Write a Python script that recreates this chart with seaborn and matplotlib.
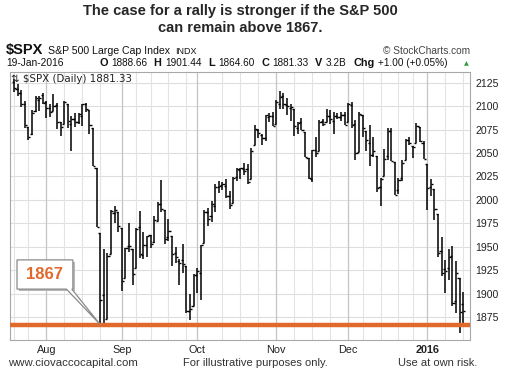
import matplotlib
matplotlib.use("Agg")
import matplotlib.pyplot as plt
import matplotlib.patches as mpatches
import matplotlib.transforms as mtransforms
import numpy as np
import pandas as pd
import seaborn as sns

# trading days shown on the chart (Jul 21 2015 - Jan 19 2016)
holidays = ["2015-09-07", "2015-11-26", "2015-12-25", "2016-01-01", "2016-01-18"]
dates = pd.bdate_range("2015-07-21", "2016-01-19")
dates = dates[~dates.isin(pd.to_datetime(holidays))]

opens = [2125.55, 2118.21, 2114.16, 2102.24, 2078.19, 2070.75, 2094.70, 2106.78, 2111.60,
         2104.49, 2097.68, 2095.27, 2100.75, 2082.61, 2080.98, 2102.66, 2081.10, 2086.19, 2083.15,
         2089.70, 2101.99, 2095.69, 2076.61, 2034.08, 1965.15, 1898.08, 1872.75, 1942.77, 1986.06,
         1986.73,
         1970.09, 1916.52, 1950.79, 1947.76, 1927.30, 1971.45, 1941.59, 1951.45, 1963.06, 1955.10,
         1978.02, 1995.33, 1989.66, 1960.84, 1961.39, 1943.24, 1934.81, 1935.93, 1929.18, 1881.90,
         1887.14,
         1919.65, 1921.77, 1954.33, 1986.63, 1982.34, 1994.01, 2013.73, 2015.65, 2015.00, 2003.66,
         1996.47, 2024.37, 2031.73, 2033.13, 2033.47, 2021.88, 2058.19, 2075.08, 2068.75, 2066.48,
         2088.35, 2090.00,
         2080.76, 2102.63, 2110.60, 2101.68, 2098.60, 2096.56, 2077.19, 2083.41, 2072.29, 2044.64,
         2022.08, 2053.67, 2051.99, 2083.70, 2082.82, 2089.41, 2084.42, 2089.30, 2088.82, 2090.95,
         2082.93, 2101.71, 2080.71, 2051.24, 2090.42, 2073.39, 2061.17, 2047.93, 2047.27, 2013.37,
         2025.55, 2046.50, 2073.76, 2040.81, 2010.27, 2023.15, 2042.20, 2063.52, 2057.77, 2060.54,
         2077.34, 2060.59,
         2038.20, 2013.78, 2011.71, 1985.32, 1945.97, 1926.12, 1927.83, 1940.34, 1891.68, 1916.68,
         1888.66]
highs = [2128.89, 2124.18, 2116.87, 2106.01, 2078.19, 2095.60, 2110.60, 2110.48, 2114.24,
         2105.70, 2102.51, 2112.66, 2103.32, 2082.61, 2105.35, 2102.66, 2089.06, 2092.93, 2092.45,
         2102.87, 2103.47, 2096.17, 2076.61, 2034.08, 1965.15, 1948.04, 1943.09, 1989.60, 1993.48,
         1986.73,
         1970.09, 1948.91, 1975.01, 1947.76, 1970.42, 1988.63, 1965.29, 1961.05, 1963.06, 1983.19,
         1997.26, 2020.86, 1989.66, 1979.64, 1961.39, 1949.52, 1937.17, 1952.89, 1929.18, 1899.48,
         1920.53,
         1927.21, 1951.36, 1989.17, 1991.62, 1999.31, 2016.50, 2020.13, 2018.66, 2022.34, 2009.56,
         2024.15, 2033.54, 2034.45, 2039.12, 2037.97, 2055.20, 2079.74, 2075.14, 2070.37, 2090.35,
         2092.52, 2094.32,
         2106.20, 2116.48, 2114.59, 2108.78, 2101.91, 2096.56, 2083.67, 2086.94, 2072.29, 2044.64,
         2053.22, 2066.69, 2085.31, 2086.74, 2097.06, 2095.61, 2094.12, 2093.00, 2093.29, 2093.81,
         2103.37, 2104.27, 2085.00, 2093.84, 2090.42, 2073.85, 2080.33, 2067.65, 2047.27, 2022.92,
         2053.87, 2076.72, 2076.37, 2040.81, 2022.90, 2042.74, 2064.73, 2067.36, 2057.77, 2081.56,
         2077.34, 2062.54,
         2038.20, 2021.94, 2011.71, 1985.32, 1960.40, 1935.65, 1947.38, 1950.33, 1934.47, 1916.68,
         1901.44]
lows = [2115.40, 2110.85, 2098.63, 2077.09, 2063.52, 2069.09, 2094.08, 2094.97, 2102.07,
        2087.31, 2088.60, 2095.27, 2075.53, 2067.91, 2080.98, 2076.49, 2052.09, 2078.26, 2080.61,
        2079.30, 2094.14, 2070.53, 2035.73, 1970.89, 1867.01, 1867.08, 1872.75, 1942.77, 1975.19,
        1965.98,
        1903.07, 1916.52, 1944.72, 1908.77, 1927.30, 1937.88, 1937.19, 1939.19, 1948.27, 1954.30,
        1977.93, 1986.73, 1953.45, 1955.80, 1929.22, 1932.57, 1908.92, 1921.50, 1879.21, 1871.91,
        1887.14,
        1900.70, 1893.70, 1954.33, 1971.99, 1976.44, 1987.53, 2007.61, 2010.55, 2001.78, 1990.73,
        1996.47, 2020.46, 2022.31, 2026.61, 2017.22, 2021.88, 2058.19, 2066.53, 2058.84, 2063.11,
        2082.63, 2079.34,
        2080.76, 2097.51, 2096.98, 2090.41, 2083.74, 2068.24, 2069.91, 2074.85, 2045.66, 2022.02,
        2019.39, 2045.90, 2051.99, 2078.76, 2082.82, 2081.39, 2070.29, 2086.30, 2084.13, 2080.41,
        2082.93, 2077.11, 2042.35, 2051.24, 2066.78, 2052.32, 2036.53, 2045.67, 2008.80, 1993.26,
        2025.55, 2042.43, 2041.66, 2005.33, 2005.93, 2020.49, 2042.20, 2058.73, 2044.20, 2060.54,
        2061.97, 2043.62,
        1989.68, 2004.17, 1979.05, 1938.83, 1918.46, 1901.10, 1914.35, 1886.41, 1878.93, 1857.83,
        1864.60]
closes = [2119.21, 2114.15, 2102.15, 2079.65, 2067.64, 2093.25, 2108.57, 2108.63, 2103.84,
          2098.04, 2093.32, 2099.84, 2083.56, 2077.57, 2104.18, 2084.07, 2086.05, 2083.39, 2091.54,
          2102.44, 2096.92, 2079.61, 2035.73, 1970.89, 1893.21, 1867.61, 1940.51, 1987.66, 1988.87,
          1972.18,
          1913.85, 1948.86, 1951.13, 1921.22, 1969.41, 1942.04, 1952.29, 1961.05, 1953.03, 1978.09,
          1995.31, 1990.20, 1958.03, 1966.97, 1942.74, 1938.76, 1932.24, 1931.34, 1881.77, 1884.09,
          1920.03,
          1923.82, 1951.36, 1987.05, 1979.92, 1995.83, 2013.43, 2014.89, 2017.46, 2003.69, 1994.24,
          2023.86, 2033.11, 2033.66, 2030.77, 2018.94, 2052.51, 2075.15, 2071.18, 2065.89, 2090.35,
          2089.41, 2079.36,
          2104.05, 2109.79, 2102.31, 2099.93, 2099.20, 2078.58, 2081.72, 2075.00, 2045.97, 2023.04,
          2053.19, 2050.44, 2083.58, 2081.24, 2089.17, 2086.59, 2089.14, 2088.87, 2090.11, 2080.41,
          2102.63, 2079.51, 2049.62, 2091.69, 2077.07, 2063.59, 2047.62, 2052.23, 2012.37, 2021.94,
          2043.41, 2073.07, 2041.89, 2005.55, 2021.15, 2038.97, 2064.29, 2060.99, 2056.50, 2078.36,
          2063.36, 2043.94,
          2012.66, 2016.71, 1990.26, 1943.09, 1922.03, 1923.67, 1938.68, 1890.28, 1921.84, 1880.33,
          1881.33]

support_level = 1867
price_ticks = [1875, 1900, 1925, 1950, 1975, 2000, 2025, 2050, 2075, 2100, 2125]
month_labels = ["Aug", "Sep", "Oct", "Nov", "Dec", "2016"]

W, H = 505, 378
ORANGE = "#e0692b"

df = pd.DataFrame({"date": dates, "open": opens, "high": highs, "low": lows, "close": closes})
df["i"] = np.arange(len(df))

sns.set_style("white")
plt.rcParams["font.family"] = ["Liberation Sans", "DejaVu Sans"]

fig = plt.figure(figsize=(W / 100, H / 100), dpi=100)
ax = fig.add_axes([10 / W, 1 - 340 / H, 460 / W, 268 / H])

# grid: horizontal price lines, weekly and monthly vertical lines
for p in price_ticks:
    ax.axhline(p, color="#dedede", lw=0.8, zorder=0)
month_start = df.groupby(df["date"].dt.to_period("M"))["i"].min().values[1:]
week_start = df.groupby(df["date"].dt.to_period("W"))["i"].min().values
for w in week_start:
    if np.min(np.abs(month_start - w)) > 2:
        ax.axvline(w, color="#e3e3e3", lw=0.8, zorder=0)
for m in month_start:
    ax.axvline(m, color="#c4c4c4", lw=0.9, zorder=0)

# OHLC bars
ax.vlines(df["i"], df["low"], df["high"], color="black", lw=1.1, zorder=3)
ax.hlines(df["open"], df["i"] - 0.6, df["i"], color="black", lw=1.0, zorder=3)
ax.hlines(df["close"], df["i"], df["i"] + 0.6, color="black", lw=1.0, zorder=3)

# support line
ax.axhline(support_level, color=ORANGE, lw=3.2, zorder=4)

ax.set_xlim(-1.1, 126.9)
ax.set_ylim(1850.5, 2136.5)

ax.yaxis.tick_right()
ax.set_yticks(price_ticks)
ax.set_yticklabels([str(p) for p in price_ticks], fontsize=7.6, color="#222222")
ax.tick_params(axis="y", length=0, pad=4)

ax.set_xticks(month_start)
ax.set_xticklabels(month_labels, fontsize=7.8, color="#222222")
ax.get_xticklabels()[-1].set_fontweight("bold")
ax.set_xticks(df["i"], minor=True)
ax.tick_params(axis="x", which="major", length=2, color="#aaaaaa", pad=1.5)
ax.tick_params(axis="x", which="minor", length=2, color="#bbbbbb", width=0.6)
for s in ax.spines.values():
    s.set_color("#a8a8a8")
    s.set_linewidth(0.8)

# callout box with pointer to the August low
tip = (24, support_level)
bx0, bx1, by0, by1 = 0.85, 16.4, 1904.8, 1936.0
shadow_tr = mtransforms.offset_copy(ax.transData, fig=fig, x=2, y=-2, units="dots")
ax.add_patch(mpatches.Rectangle((bx0, by0), bx1 - bx0, by1 - by0, facecolor="#b8b8b8",
                                edgecolor="none", transform=shadow_tr, zorder=5))
callout = mpatches.Polygon([(bx0, by1), (bx1, by1), (bx1, by0), (bx1 - 0.3, by0), tip,
                            (bx1 - 1.8, by0), (bx0, by0)], closed=True,
                           facecolor="white", edgecolor="#8a8a8a", lw=0.9, zorder=6)
ax.add_patch(callout)
ax.text((bx0 + bx1) / 2, (by0 + by1) / 2, "1867", color=ORANGE, fontsize=12,
        fontweight="bold", ha="center", va="center", zorder=7)

# label inside the plot
ax.text(0.002, 0.994, "\u21c5 $SPX (Daily) 1881.33", transform=ax.transAxes,
        fontsize=7.4, family="DejaVu Sans", color="#222222", ha="left", va="top", zorder=7)

# title
fig.text(240 / W, 1 - 11 / H, "The case for a rally is stronger if the S&P 500",
         ha="center", va="center", fontsize=10.5, fontweight="bold")
fig.text(240 / W, 1 - 28 / H, "can remain above 1867.",
         ha="center", va="center", fontsize=10.5, fontweight="bold")

renderer = fig.canvas.get_renderer()


def header_text(x, y, s, size, weight="normal", color="#111111", ha="left"):
    t = fig.text(x / W, 1 - y / H, s, ha=ha, va="baseline", fontsize=size,
                 fontweight=weight, color=color)
    return t.get_window_extent(renderer=renderer).width


header_text(6, 54, "$SPX", 10.5, "bold")
header_text(48, 54, "S&P 500 Large Cap Index", 7.6)
header_text(175, 54, "INDX", 6.5)
header_text(470, 54, "\u00a9 StockCharts.com", 7.3, color="#444444", ha="right")

header_text(6, 66, "19-Jan-2016", 7.4)
row2 = [("O", "bold"), ("1888.66", "normal"), ("H", "bold"), ("1901.44", "normal"),
        ("L", "bold"), ("1864.60", "normal"), ("C", "bold"), ("1881.33", "normal"),
        ("V", "bold"), ("3.2B", "normal"), ("Chg", "bold"), ("+1.00 (+0.05%)", "normal")]
x = 99
for s, weight in row2:
    if weight == "bold":
        x += header_text(x, 66, s, 7.8, weight) + 3.5
    else:
        x += header_text(x, 66, s, 7.2, weight) + 6.5
fig.text(466 / W, 1 - 65 / H, "\u25b2", ha="center", va="baseline", fontsize=4.5,
         color="#2e9a3a", family="DejaVu Sans")

# footer
fig.text(8 / W, 1 - 363 / H, "www.ciovaccocapital.com", ha="left", va="center",
         fontsize=8.2, color="#333333")
fig.text(255 / W, 1 - 363 / H, "For illustrative purposes only.", ha="center", va="center",
         fontsize=8, color="#333333")
fig.text(477 / W, 1 - 363 / H, "Use at own risk.", ha="right", va="center",
         fontsize=8, color="#333333")

fig.savefig("out.png", dpi=100)
